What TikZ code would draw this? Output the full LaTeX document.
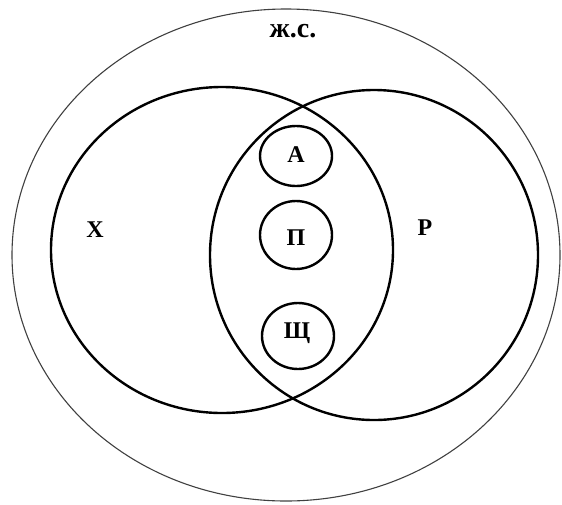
\documentclass[tikz,border=0pt]{standalone}
\usepackage{fontspec}
\setmainfont{Liberation Serif}
\begin{document}
\begin{tikzpicture}[x=1pt,y=-1pt,
  thin ring/.style={draw=black!75, line width=1.1pt},
  thick ring/.style={draw=black, line width=2.4pt},
  lab/.style={font=\bfseries\fontsize{24}{26}\selectfont, inner sep=0pt}]
\useasboundingbox (0,0) rectangle (562,504);
\draw[thin ring] (286,255) ellipse [x radius=274, y radius=246];
\draw[thick ring] (222,250) ellipse [x radius=171, y radius=163];
\draw[thick ring] (374,255) ellipse [x radius=164, y radius=165];
\draw[thick ring] (296,156) ellipse [x radius=36, y radius=30];
\draw[thick ring] (296,235) ellipse [x radius=36, y radius=34];
\draw[thick ring] (298,336) ellipse [x radius=36, y radius=33];
\node[lab, font=\bfseries\fontsize{28}{30}\selectfont] (js) at (293,31) {ж.с.};
\node[lab] (x) at (95,230) {X};
\node[lab] (p) at (425,228) {P};
\node[lab] (a) at (296,155) {А};
\node[lab] (pp) at (296,238) {П};
\node[lab] (sh) at (297,333) {Щ};
\end{tikzpicture}
\end{document}
